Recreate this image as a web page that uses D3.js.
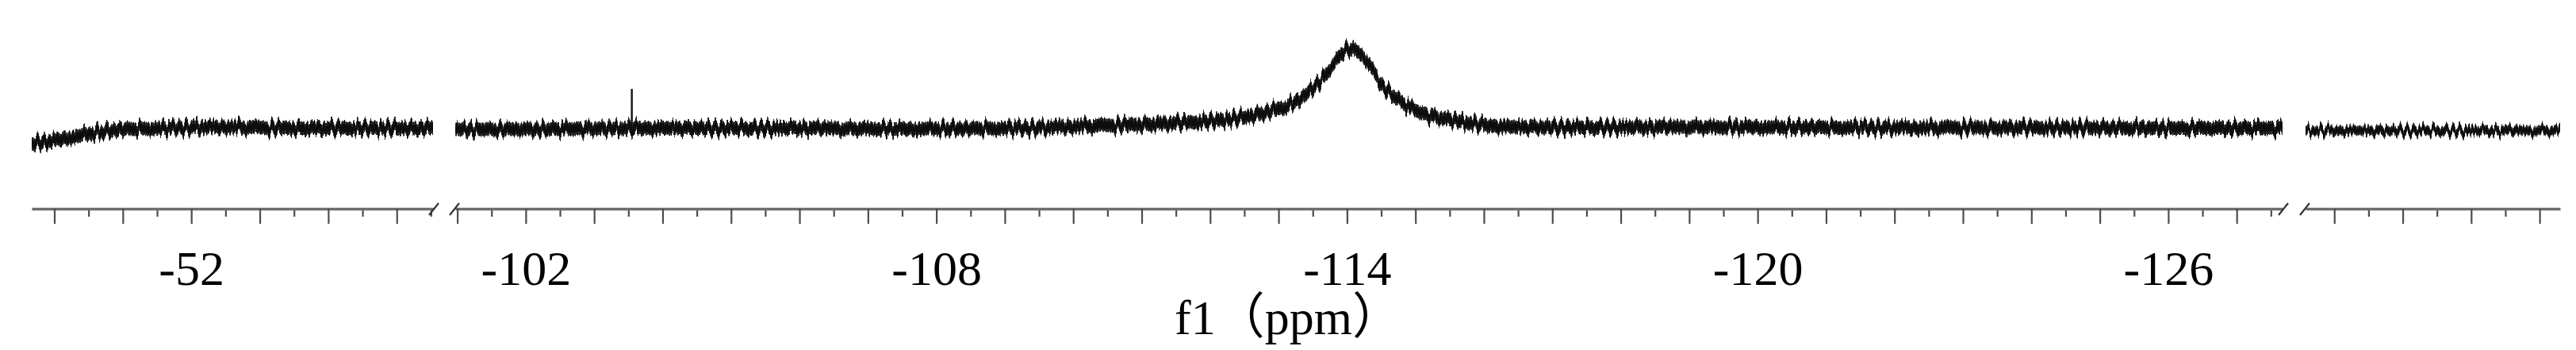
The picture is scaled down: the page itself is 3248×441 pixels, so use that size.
<!DOCTYPE html>
<html>
<head>
<meta charset="utf-8">
<script src="https://cdn.jsdelivr.net/npm/d3@7"></script>
<style>
  body { margin: 0; background: #fff; }
</style>
</head>
<body>
<div id="chart"></div>
<script>
// ppm window shown in each piece of the broken axis
const segmentDomains = [
  [-49.67, -55.53],
  [-100.97, -127.67],
  [-150.58, -154.30]
];

// spectrum centre line (ppm, intensity)
const segment1 = [
  [-49.67, -19.5], [-50.0, -15], [-50.43, -8], [-50.8, -3], [-51.02, -1],
  [-51.62, 0.5], [-52.5, 2], [-53.4, 0.5], [-54.6, 0.5], [-55.53, 0.5]
];

const segment2 = [
  [-100.97, -1], [-102.0, -1], [-103.0, 0], [-104.5, 0.5], [-106.0, 0.5],
  [-107.3, -0.5], [-108.5, 0], [-109.5, 1], [-110.3, 3.5], [-111.0, 5],
  [-111.5, 7], [-112.0, 9.5], [-112.4, 13], [-112.7, 18], [-113.0, 25],
  [-113.15, 29], [-113.45, 47], [-113.75, 74], [-113.92, 95], [-114.04, 100],
  [-114.15, 97], [-114.34, 79], [-114.51, 55], [-114.7, 40], [-114.93, 26],
  [-115.23, 16], [-115.53, 11], [-115.95, 5], [-116.45, 2], [-117.5, 1.5],
  [-119.1, 2], [-121.0, 1.5], [-122.5, 1], [-124.5, 1], [-126.0, 0.5],
  [-127.67, 0.5]
];

const segment3 = [
  [-150.58, -2.5], [-152.0, -2.5], [-153.2, -2.5], [-154.30, -2.5]
];

const segmentData = [segment1, segment2, segment3];

// single sharp line near -103.5
const spikes = [[-103.55, 50]];

const tickLabels = [-52, -102, -108, -114, -120, -126];
const axisTitle = "f1（ppm）";

const width = 3248;
const height = 441;
const axisY = 263;

// pixel extent of each axis piece
const segmentRanges = [
  [40, 546],
  [574, 2878],
  [2907, 3228]
];
// half thickness of the trace band in each piece
const bandHalf = [8.5, 8.5, 6];

const svg = d3.select("#chart")
  .append("svg")
  .attr("width", width)
  .attr("height", height)
  .style("display", "block");

const yScale = d3.scaleLinear()
  .domain([0, 100])
  .range([162, 62]);

const defs = svg.append("defs");

// vertical hatch for the trace band
const hatch = defs.append("pattern")
  .attr("id", "hatch")
  .attr("patternUnits", "userSpaceOnUse")
  .attr("width", 19)
  .attr("height", height);

hatch.append("rect")
  .attr("width", 19)
  .attr("height", height)
  .attr("fill", "#484848");

[[0, 1.8, "#111"], [2.4, 1.6, "#1a1a1a"], [4.8, 1.9, "#0d0d0d"], [7.6, 1.4, "#222"],
 [9.8, 1.8, "#111"], [12.5, 1.6, "#1a1a1a"], [15, 2.0, "#0d0d0d"], [17.6, 1.2, "#333"]]
  .forEach(function(s) {
    hatch.append("rect")
      .attr("x", s[0])
      .attr("width", s[1])
      .attr("height", height)
      .attr("fill", s[2]);
  });

// jitter texture: shifts each pixel column up or down a little
const jitter = defs.append("filter")
  .attr("id", "jitter")
  .attr("filterUnits", "userSpaceOnUse")
  .attr("x", 0)
  .attr("y", 0)
  .attr("width", width)
  .attr("height", height);

jitter.append("feTurbulence")
  .attr("type", "fractalNoise")
  .attr("baseFrequency", "0.24 0")
  .attr("numOctaves", 2)
  .attr("seed", 7)
  .attr("result", "tex");

jitter.append("feColorMatrix")
  .attr("in", "tex")
  .attr("type", "matrix")
  .attr("values", "0 0 0 0 0.5  0 1 0 0 0  0 0 0 0 0  0 0 0 0 1")
  .attr("result", "map");

jitter.append("feDisplacementMap")
  .attr("in", "SourceGraphic")
  .attr("in2", "map")
  .attr("scale", 26)
  .attr("xChannelSelector", "R")
  .attr("yChannelSelector", "G");

segmentData.forEach(function(data, i) {
  const xs = d3.scaleLinear()
    .domain(segmentDomains[i])
    .range(segmentRanges[i]);

  const h = bandHalf[i];

  const band = function(half) {
    return d3.area()
      .x(d => xs(d[0]))
      .y0(d => yScale(d[1]) + half)
      .y1(d => yScale(d[1]) - half)
      .curve(d3.curveMonotoneX);
  };

  const trace = svg.append("g")
    .attr("filter", "url(#jitter)");

  trace.append("path")
    .datum(data)
    .attr("fill", "url(#hatch)")
    .attr("d", band(h));

  trace.append("path")
    .datum(data)
    .attr("fill", "#111")
    .attr("d", band(h * 0.55));

  // spikes that fall in this piece
  spikes
    .filter(s => s[0] <= d3.max(segmentDomains[i]) && s[0] >= d3.min(segmentDomains[i]))
    .forEach(function(s) {
      svg.append("line")
        .attr("x1", xs(s[0]))
        .attr("x2", xs(s[0]))
        .attr("y1", yScale(0) + 4)
        .attr("y2", yScale(s[1]))
        .attr("stroke", "#111")
        .attr("stroke-width", 2.4);
    });

  // axis ticks: whole ppm tall, half ppm short
  const lo = d3.min(segmentDomains[i]);
  const hi = d3.max(segmentDomains[i]);
  const majors = d3.range(Math.ceil(lo), Math.floor(hi) + 1);
  const minors = d3.range(Math.ceil(lo * 2), Math.floor(hi * 2) + 1)
    .map(v => v / 2)
    .filter(v => v % 1 !== 0);

  const minorAxis = svg.append("g")
    .attr("transform", `translate(0, ${axisY})`)
    .call(d3.axisBottom(xs).tickValues(minors).tickSize(10).tickSizeOuter(0).tickFormat(""));
  minorAxis.select(".domain").remove();

  const majorAxis = svg.append("g")
    .attr("transform", `translate(0, ${axisY})`)
    .call(
      d3.axisBottom(xs)
        .tickValues(majors)
        .tickSize(19)
        .tickSizeOuter(0)
        .tickPadding(33)
        .tickFormat(d => tickLabels.includes(d) ? String(d) : "")
    );

  majorAxis.select(".domain")
    .attr("stroke", "#6e6e6e")
    .attr("stroke-width", 3.5);

  svg.selectAll(".tick line")
    .attr("stroke", "#4d4d4d")
    .attr("stroke-width", 2.2);

  majorAxis.selectAll("text")
    .attr("fill", "#000")
    .style("font-family", "'Liberation Serif', 'Times New Roman', serif")
    .style("font-size", "62px");
});

// break marks between the axis pieces
for (let i = 0; i < segmentRanges.length - 1; i++) {
  const xEnd = segmentRanges[i][1];
  const xStart = segmentRanges[i + 1][0];
  [xEnd, xStart].forEach(function(x, k) {
    const off = k === 0 ? 1 : -1;
    svg.append("line")
      .attr("x1", x - 6 + off)
      .attr("y1", axisY + 8)
      .attr("x2", x + 6 + off)
      .attr("y2", axisY - 7)
      .attr("stroke", "#333")
      .attr("stroke-width", 2.2);
  });
}

// axis title
svg.append("text")
  .attr("x", width / 2)
  .attr("y", 421)
  .attr("text-anchor", "middle")
  .style("font-family", "'Liberation Serif', 'Times New Roman', 'Noto Sans CJK SC', serif")
  .style("font-size", "62px")
  .style("fill", "#000")
  .text(axisTitle);
</script>
</body>
</html>
